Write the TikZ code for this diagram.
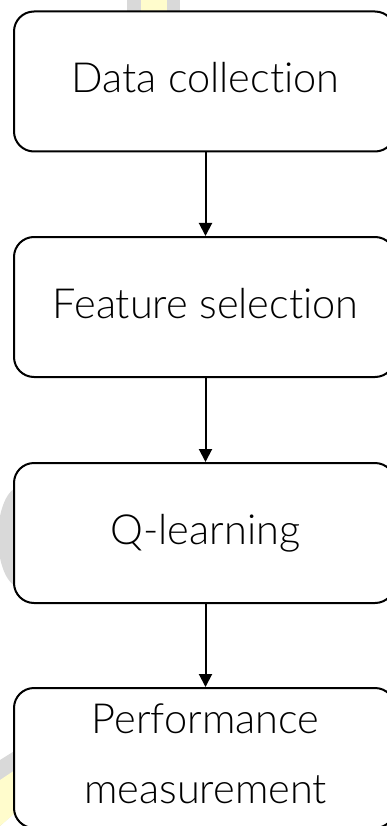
\documentclass[tikz,border=0pt]{standalone}
\usepackage{fontspec}
\setmainfont{Lato}[UprightFont=* Light, Ligatures=NoCommon]
\usetikzlibrary{arrows.meta}
\tikzset{
  stage/.style={draw=black, line width=2pt, fill=white, rounded corners=20pt,
    minimum width=381pt, minimum height=140pt, inner sep=0pt},
  stagetext/.style={anchor=base, inner sep=0pt, font=\fontsize{41.5}{70}\selectfont},
  flow/.style={line width=2pt, -{Triangle[width=13pt,length=13pt]}},
}
\begin{document}
\begin{tikzpicture}[x=1pt, y=-1pt]
  \useasboundingbox (0,0) rectangle (387,826);
  \clip (0,0) rectangle (387,826);
  % faint logo marks behind the chart
  \fill[gray!30] (127,-2) rectangle (180,11);
  \fill[yellow!20] (141,-2) rectangle (167,11);
  \fill[gray!30] (20,537) ellipse (22pt and 50pt);
  \fill[gray!30] (0,760) -- (40,735) -- (40,790) -- (0,826) -- cycle;
  \fill[yellow!20] (0,780) -- (30,760) -- (30,800) -- (0,826) -- cycle;
  % process stages
  \node[stage] (s1) at (204.5,81.5) {};
  \node[stage] (s2) at (204.5,307) {};
  \node[stage] (s3) at (204.5,533) {};
  \node[stage] (s4) at (204.5,758) {};
  \node[stagetext] (t1) at (205.5,93) {Data collection};
  \node[stagetext] (t2) at (205.5,318) {Feature selection};
  \node[stagetext] (t3) at (205.5,544) {Q-learning};
  \node[stagetext] (t4a) at (205.5,733) {Performance};
  \node[stagetext] (t4b) at (205.5,803) {measurement};
  % flow connectors
  \draw[flow] (s1.south -| t1.base) -- (s2.north -| t1.base);
  \draw[flow] (s2.south -| t1.base) -- (s3.north -| t1.base);
  \draw[flow] (s3.south -| t1.base) -- (s4.north -| t1.base);
\end{tikzpicture}
\end{document}
